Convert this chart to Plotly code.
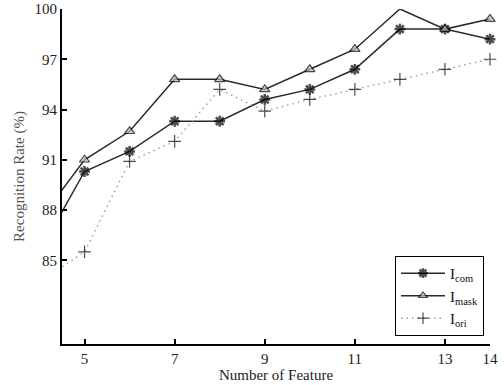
import plotly.graph_objects as go

features = [4, 5, 6, 7, 8, 9, 10, 11, 12, 13, 14]
i_com = [85.5, 90.3, 91.5, 93.3, 93.3, 94.6, 95.2, 96.4, 98.8, 98.8, 98.2]
i_mask = [87.4, 91.0, 92.7, 95.8, 95.8, 95.2, 96.4, 97.6, 100.0, 98.8, 99.4]
i_ori = [83.7, 85.5, 90.9, 92.1, 95.2, 93.9, 94.6, 95.2, 95.8, 96.4, 97.0]
x_ticks = [5, 7, 9, 11, 13, 14]
y_ticks = [85, 88, 91, 94, 97, 100]

mask_sizes = [0 if (x == 4 or x == 12) else 9 for x in features]
other_sizes = [0 if x == 4 else 9 for x in features]

fig = go.Figure()
fig.add_trace(go.Scatter(
    x=features, y=i_com, name="I<sub>com</sub>", mode="lines+markers",
    line=dict(color="#2a2a2a", width=1.5),
    marker=dict(symbol="asterisk-open", size=other_sizes, color="#000",
                line=dict(color="#000", width=2.5)),
    cliponaxis=False,
))
fig.add_trace(go.Scatter(
    x=features, y=i_mask, name="I<sub>mask</sub>", mode="lines+markers",
    line=dict(color="#2a2a2a", width=1.5),
    marker=dict(symbol="triangle-up", size=mask_sizes, color="#bdbdbd",
                line=dict(color="#000", width=1.2)),
    cliponaxis=False,
))
fig.add_trace(go.Scatter(
    x=features, y=i_ori, name="I<sub>ori</sub>", mode="lines+markers",
    line=dict(color="#a0a0a0", width=1.5, dash="1.5px,4px"),
    marker=dict(symbol="cross-thin-open", size=other_sizes,
                color="#000", line=dict(color="#000", width=1.2)),
    cliponaxis=False,
))

axis_font = dict(family="Liberation Serif", size=15, color="#222")
fig.update_layout(
    width=504, height=385,
    margin=dict(l=62, r=14, t=9, b=41),
    paper_bgcolor="white", plot_bgcolor="white",
    showlegend=True,
    font=dict(family="Liberation Serif", size=15, color="#222"),
    legend=dict(
        x=0.986, y=0.263, xanchor="right", yanchor="top",
        bordercolor="#000", borderwidth=1, bgcolor="white",
        font=dict(family="Liberation Serif", size=15, color="#111"),
        tracegroupgap=0, itemwidth=44,
    ),
    xaxis=dict(
        range=[4.5, 14], tickvals=x_ticks, ticktext=[str(v) for v in x_ticks],
        showgrid=False, zeroline=False, showline=True, linecolor="#000", linewidth=2,
        ticks="inside", ticklen=5, tickwidth=1.5, tickcolor="#000",
        tickfont=axis_font, automargin=False, ticklabelstandoff=0,
        title=dict(text="Number of Feature", font=dict(family="Liberation Serif", size=15, color="#222"), standoff=0),
    ),
    yaxis=dict(
        range=[80, 100], tickvals=y_ticks, ticktext=[str(v) for v in y_ticks],
        showgrid=False, zeroline=False, showline=True, linecolor="#000", linewidth=2,
        ticks="inside", ticklen=5, tickwidth=1.5, tickcolor="#000",
        tickfont=axis_font, automargin=False,
        title=dict(text="Recognition Rate (%)", font=dict(family="Liberation Serif", size=15, color="#555"), standoff=6),
    ),
)

fig.write_html(
    "out.html",
    config={"displayModeBar": False},
    post_script="document.body.style.margin='0';document.body.style.overflow='hidden';",
)
